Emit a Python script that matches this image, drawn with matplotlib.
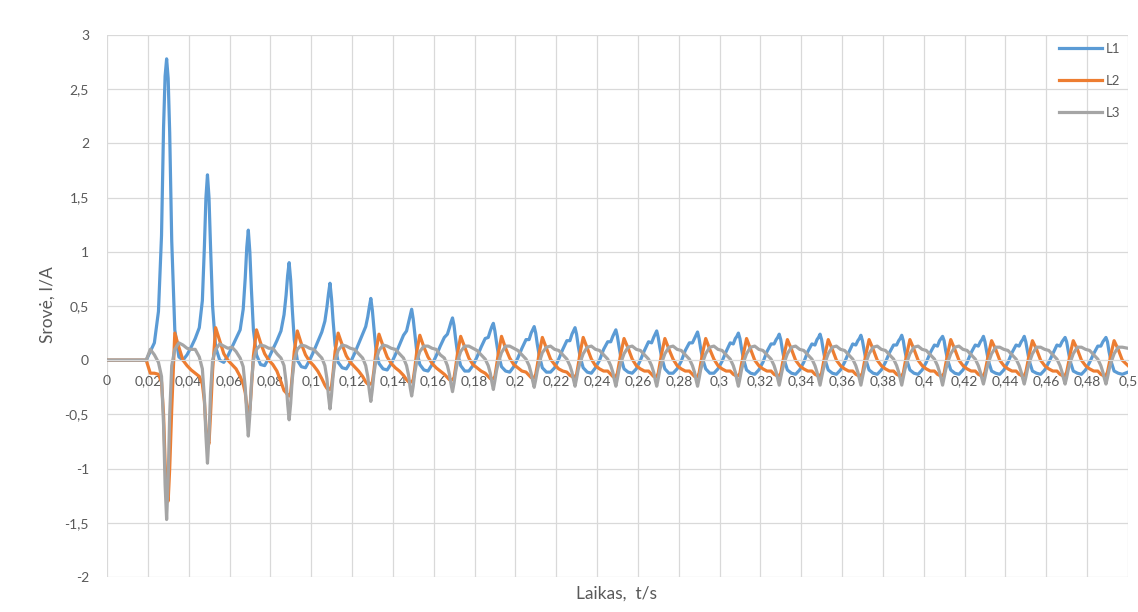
import numpy as np
import matplotlib.pyplot as plt

plt.rcParams['font.family'] = ['Lato', 'DejaVu Sans']

# 50 Hz inrush current, one row per cycle, values sampled around each L1 peak
period = 0.02
first_peak = 0.0292
offsets_ms = [-10, -8, -6, -4, -2.5, -1.5, -0.75, 0, 0.75, 1.5, 2.5, 4, 6, 8]
t_start = 0.0
t_end = 0.5

l1_cycles = [
    [0.00, 0.08, 0.16, 0.45, 1.15, 2.15, 2.62, 2.78, 2.60, 2.10, 1.10, 0.28, 0.03, 0.00],
    [0.05, 0.12, 0.20, 0.30, 0.55, 1.05, 1.50, 1.71, 1.50, 1.05, 0.50, 0.12, 0.00, -0.02],
    [0.04, 0.12, 0.20, 0.28, 0.47, 0.76, 1.04, 1.20, 1.00, 0.66, 0.28, 0.05, -0.04, -0.05],
    [0.02, 0.10, 0.18, 0.27, 0.42, 0.60, 0.78, 0.90, 0.74, 0.48, 0.19, 0.00, -0.06, -0.07],
    [0.00, 0.08, 0.17, 0.26, 0.36, 0.49, 0.61, 0.71, 0.57, 0.37, 0.14, -0.02, -0.07, -0.08],
    [-0.02, 0.06, 0.15, 0.24, 0.31, 0.40, 0.49, 0.57, 0.46, 0.30, 0.10, -0.03, -0.08, -0.09],
    [-0.03, 0.05, 0.14, 0.23, 0.27, 0.35, 0.41, 0.47, 0.38, 0.25, 0.08, -0.04, -0.09, -0.10],
    [-0.04, 0.04, 0.13, 0.21, 0.24, 0.30, 0.35, 0.39, 0.32, 0.20, 0.06, -0.05, -0.10, -0.10],
    [-0.05, 0.03, 0.12, 0.20, 0.21, 0.27, 0.31, 0.34, 0.27, 0.17, 0.05, -0.06, -0.10, -0.11],
    [-0.06, 0.02, 0.11, 0.19, 0.19, 0.25, 0.28, 0.31, 0.25, 0.15, 0.04, -0.07, -0.11, -0.11],
    [-0.07, 0.01, 0.10, 0.18, 0.18, 0.24, 0.27, 0.30, 0.24, 0.14, 0.03, -0.07, -0.11, -0.12],
    [-0.07, 0.00, 0.10, 0.17, 0.17, 0.22, 0.25, 0.28, 0.22, 0.13, 0.02, -0.08, -0.11, -0.12],
    [-0.08, 0.00, 0.09, 0.17, 0.16, 0.21, 0.24, 0.27, 0.21, 0.12, 0.02, -0.08, -0.12, -0.12],
    [-0.08, -0.01, 0.09, 0.16, 0.16, 0.20, 0.23, 0.26, 0.20, 0.11, 0.01, -0.08, -0.12, -0.12],
    [-0.08, -0.01, 0.08, 0.16, 0.15, 0.20, 0.22, 0.25, 0.20, 0.11, 0.01, -0.09, -0.12, -0.13],
    [-0.09, -0.02, 0.08, 0.15, 0.15, 0.19, 0.21, 0.24, 0.19, 0.10, 0.00, -0.09, -0.12, -0.13],
    [-0.09, -0.02, 0.08, 0.15, 0.14, 0.19, 0.21, 0.24, 0.19, 0.10, 0.00, -0.09, -0.12, -0.13],
    [-0.09, -0.02, 0.07, 0.15, 0.14, 0.18, 0.20, 0.23, 0.18, 0.10, 0.00, -0.09, -0.12, -0.13],
    [-0.09, -0.02, 0.07, 0.14, 0.14, 0.18, 0.20, 0.23, 0.18, 0.09, 0.00, -0.09, -0.12, -0.13],
    [-0.09, -0.02, 0.07, 0.14, 0.13, 0.18, 0.20, 0.22, 0.18, 0.09, 0.00, -0.09, -0.12, -0.13],
    [-0.09, -0.02, 0.07, 0.14, 0.13, 0.17, 0.19, 0.22, 0.17, 0.09, -0.01, -0.10, -0.12, -0.13],
    [-0.09, -0.02, 0.07, 0.14, 0.13, 0.17, 0.19, 0.22, 0.17, 0.09, -0.01, -0.10, -0.12, -0.13],
    [-0.09, -0.02, 0.06, 0.14, 0.13, 0.17, 0.19, 0.21, 0.17, 0.09, -0.01, -0.10, -0.12, -0.13],
    [-0.09, -0.02, 0.06, 0.13, 0.13, 0.17, 0.19, 0.21, 0.17, 0.08, -0.01, -0.10, -0.12, -0.13],
]
l1_end = -0.11

l2_cycles = [
    [0.00, -0.12, -0.12, -0.13, -0.20, -0.50, -0.95, -1.22, -1.30, -1.00, -0.45, 0.25, 0.12, 0.00],
    [-0.05, -0.09, -0.12, -0.15, -0.22, -0.38, -0.62, -0.74, -0.77, -0.50, -0.10, 0.30, 0.18, 0.06],
    [0.00, -0.04, -0.08, -0.15, -0.22, -0.30, -0.42, -0.48, -0.46, -0.26, 0.04, 0.28, 0.16, 0.06],
    [0.00, -0.04, -0.10, -0.20, -0.28, -0.30, -0.32, -0.33, -0.30, -0.15, 0.08, 0.27, 0.15, 0.05],
    [-0.01, -0.05, -0.10, -0.17, -0.23, -0.26, -0.27, -0.27, -0.24, -0.12, 0.08, 0.25, 0.14, 0.04],
    [-0.02, -0.06, -0.10, -0.15, -0.20, -0.22, -0.22, -0.22, -0.20, -0.10, 0.08, 0.24, 0.13, 0.03],
    [-0.03, -0.07, -0.10, -0.14, -0.18, -0.20, -0.20, -0.20, -0.18, -0.08, 0.08, 0.23, 0.12, 0.03],
    [-0.03, -0.07, -0.10, -0.13, -0.16, -0.18, -0.18, -0.18, -0.16, -0.07, 0.07, 0.22, 0.12, 0.02],
    [-0.04, -0.07, -0.10, -0.12, -0.15, -0.17, -0.17, -0.17, -0.15, -0.06, 0.07, 0.22, 0.11, 0.02],
    [-0.04, -0.07, -0.10, -0.11, -0.14, -0.16, -0.16, -0.16, -0.13, -0.05, 0.07, 0.21, 0.11, 0.01],
    [-0.04, -0.08, -0.10, -0.11, -0.14, -0.15, -0.16, -0.15, -0.13, -0.05, 0.07, 0.21, 0.11, 0.01],
    [-0.05, -0.08, -0.10, -0.10, -0.13, -0.15, -0.16, -0.15, -0.12, -0.04, 0.07, 0.20, 0.11, 0.01],
    [-0.05, -0.08, -0.10, -0.10, -0.13, -0.15, -0.15, -0.15, -0.12, -0.04, 0.07, 0.20, 0.10, 0.01],
    [-0.05, -0.08, -0.10, -0.10, -0.13, -0.15, -0.15, -0.15, -0.12, -0.04, 0.07, 0.20, 0.10, 0.01],
    [-0.05, -0.08, -0.10, -0.10, -0.13, -0.14, -0.15, -0.14, -0.12, -0.04, 0.06, 0.20, 0.10, 0.00],
    [-0.05, -0.08, -0.10, -0.10, -0.13, -0.14, -0.15, -0.14, -0.12, -0.04, 0.06, 0.19, 0.10, 0.00],
    [-0.05, -0.08, -0.10, -0.10, -0.13, -0.14, -0.15, -0.14, -0.12, -0.04, 0.06, 0.19, 0.10, 0.00],
    [-0.05, -0.08, -0.10, -0.10, -0.13, -0.14, -0.15, -0.14, -0.12, -0.04, 0.06, 0.19, 0.10, 0.00],
    [-0.05, -0.08, -0.10, -0.10, -0.13, -0.14, -0.15, -0.14, -0.12, -0.04, 0.06, 0.19, 0.10, 0.00],
    [-0.05, -0.08, -0.10, -0.10, -0.13, -0.14, -0.15, -0.14, -0.12, -0.04, 0.06, 0.19, 0.10, 0.00],
    [-0.05, -0.08, -0.10, -0.10, -0.13, -0.14, -0.15, -0.14, -0.11, -0.04, 0.06, 0.18, 0.10, 0.00],
    [-0.05, -0.08, -0.10, -0.10, -0.13, -0.14, -0.15, -0.14, -0.11, -0.04, 0.06, 0.18, 0.10, 0.00],
    [-0.05, -0.08, -0.10, -0.10, -0.13, -0.14, -0.15, -0.14, -0.11, -0.04, 0.06, 0.18, 0.10, 0.00],
    [-0.05, -0.08, -0.10, -0.10, -0.13, -0.14, -0.15, -0.14, -0.11, -0.04, 0.06, 0.18, 0.10, 0.00],
]
l2_end = -0.05

l3_cycles = [
    [0.00, 0.10, 0.05, -0.02, -0.15, -0.60, -1.15, -1.47, -1.10, -0.50, -0.05, 0.10, 0.16, 0.14],
    [0.11, 0.10, 0.10, 0.03, -0.08, -0.35, -0.70, -0.95, -0.70, -0.30, 0.00, 0.10, 0.15, 0.13],
    [0.11, 0.12, 0.08, 0.02, -0.06, -0.25, -0.50, -0.70, -0.50, -0.22, 0.00, 0.10, 0.14, 0.13],
    [0.11, 0.11, 0.06, 0.02, -0.05, -0.20, -0.40, -0.55, -0.40, -0.18, 0.00, 0.10, 0.14, 0.13],
    [0.11, 0.10, 0.06, 0.02, -0.05, -0.17, -0.33, -0.45, -0.32, -0.15, 0.00, 0.09, 0.14, 0.13],
    [0.11, 0.10, 0.06, 0.02, -0.05, -0.15, -0.28, -0.38, -0.27, -0.13, 0.00, 0.09, 0.14, 0.13],
    [0.11, 0.10, 0.06, 0.02, -0.05, -0.14, -0.25, -0.33, -0.24, -0.12, -0.01, 0.08, 0.13, 0.13],
    [0.11, 0.10, 0.05, 0.02, -0.05, -0.13, -0.22, -0.29, -0.21, -0.11, -0.01, 0.08, 0.13, 0.13],
    [0.11, 0.09, 0.05, 0.01, -0.05, -0.12, -0.20, -0.27, -0.19, -0.10, -0.02, 0.07, 0.13, 0.13],
    [0.11, 0.09, 0.05, 0.01, -0.05, -0.12, -0.19, -0.25, -0.18, -0.10, -0.02, 0.07, 0.12, 0.13],
    [0.10, 0.09, 0.05, 0.01, -0.05, -0.11, -0.18, -0.24, -0.17, -0.09, -0.02, 0.06, 0.12, 0.13],
    [0.10, 0.09, 0.05, 0.01, -0.05, -0.11, -0.18, -0.24, -0.17, -0.09, -0.02, 0.06, 0.12, 0.13],
    [0.10, 0.09, 0.05, 0.01, -0.05, -0.11, -0.18, -0.24, -0.17, -0.09, -0.02, 0.06, 0.12, 0.13],
    [0.10, 0.09, 0.05, 0.01, -0.05, -0.11, -0.18, -0.24, -0.17, -0.09, -0.02, 0.06, 0.12, 0.13],
    [0.10, 0.09, 0.05, 0.01, -0.05, -0.11, -0.18, -0.24, -0.17, -0.09, -0.02, 0.06, 0.12, 0.13],
    [0.10, 0.09, 0.05, 0.01, -0.05, -0.11, -0.17, -0.23, -0.16, -0.09, -0.02, 0.06, 0.12, 0.13],
    [0.10, 0.09, 0.05, 0.01, -0.05, -0.11, -0.17, -0.23, -0.16, -0.09, -0.02, 0.06, 0.12, 0.13],
    [0.10, 0.09, 0.05, 0.01, -0.05, -0.11, -0.17, -0.23, -0.16, -0.09, -0.02, 0.06, 0.12, 0.13],
    [0.10, 0.09, 0.05, 0.01, -0.05, -0.11, -0.17, -0.23, -0.16, -0.09, -0.02, 0.06, 0.12, 0.13],
    [0.10, 0.09, 0.05, 0.01, -0.05, -0.11, -0.17, -0.23, -0.16, -0.09, -0.02, 0.06, 0.12, 0.13],
    [0.10, 0.09, 0.05, 0.01, -0.05, -0.11, -0.17, -0.22, -0.16, -0.09, -0.02, 0.06, 0.12, 0.12],
    [0.10, 0.09, 0.05, 0.01, -0.05, -0.11, -0.17, -0.22, -0.16, -0.09, -0.02, 0.06, 0.12, 0.12],
    [0.10, 0.09, 0.05, 0.01, -0.05, -0.11, -0.17, -0.22, -0.16, -0.09, -0.02, 0.06, 0.12, 0.12],
    [0.10, 0.09, 0.05, 0.01, -0.05, -0.11, -0.17, -0.22, -0.16, -0.09, -0.02, 0.06, 0.12, 0.12],
]
l3_end = 0.11

series_names = ['L1', 'L2', 'L3']
series_colors = ['#5B9BD5', '#ED7D31', '#A5A5A5']

x_ticks = [i * 0.02 for i in range(26)]
y_ticks = [-2, -1.5, -1, -0.5, 0, 0.5, 1, 1.5, 2, 2.5, 3]


def comma(v):
    s = f"{v:.2f}".rstrip('0').rstrip('.')
    if s == '-0':
        s = '0'
    return s.replace('.', ',')


# time axis: start, every cycle's sample points, end
peaks = first_peak + period * np.arange(len(l1_cycles))
t_cycles = (peaks[:, None] + np.array(offsets_ms)[None, :] / 1000.0).ravel()
t = np.concatenate([[t_start], t_cycles, [t_end]])

fig = plt.figure(figsize=(11.38, 6.12), dpi=100)
ax = fig.add_axes([107 / 1138, 1 - 577 / 612, 1021 / 1138, 542 / 612])

for cycles, end, name, col in zip([l1_cycles, l2_cycles, l3_cycles],
                                  [l1_end, l2_end, l3_end],
                                  series_names, series_colors):
    y = np.concatenate([[0.0], np.array(cycles).ravel(), [end]])
    ax.plot(t, y, color=col, lw=2.3, label=name, solid_joinstyle='round')

ax.set_xlim(0, 0.5)
ax.set_ylim(-2, 3)
ax.set_xticks(x_ticks)
ax.set_xticklabels([comma(v) for v in x_ticks])
ax.set_yticks(y_ticks)
ax.set_yticklabels([comma(v) for v in y_ticks])
ax.grid(True, color='#D9D9D9', lw=0.9)
ax.set_axisbelow(True)

for side in ['top', 'right', 'left']:
    ax.spines[side].set_visible(False)
ax.spines['bottom'].set_position(('data', 0))
ax.spines['bottom'].set_color('#D9D9D9')
ax.tick_params(axis='both', length=0, labelsize=10, labelcolor='#595959')
ax.tick_params(axis='x', pad=11)
ax.tick_params(axis='y', pad=13)

fig.text(48 / 1138, 1 - 305 / 612, 'Srovė, I/A', rotation=90, ha='center',
         va='center', fontsize=12.5, color='#595959')
fig.text(617 / 1138, 1 - 594 / 612, 'Laikas,  t/s', ha='center', va='center',
         fontsize=12.5, color='#595959')

ax.legend(loc='upper right', bbox_to_anchor=(1.0, 1.0), frameon=False,
          fontsize=9.5, labelcolor='#595959', labelspacing=1.5,
          handlelength=3.2, handletextpad=0.3, borderaxespad=0.2)

fig.savefig('out.png', dpi=100)
